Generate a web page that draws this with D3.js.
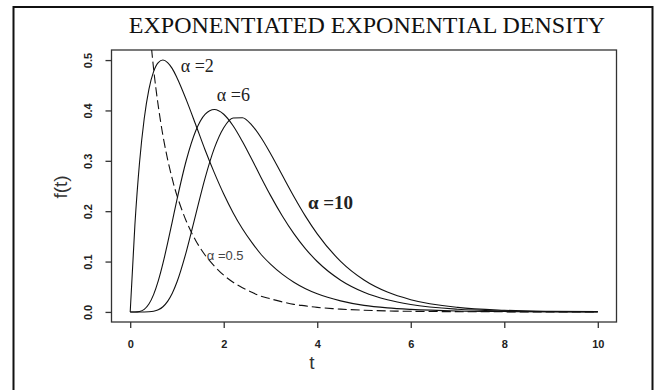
<!DOCTYPE html>
<html><head><meta charset="utf-8">
<script src="https://cdn.jsdelivr.net/npm/d3@7"></script>
<style>html,body{margin:0;padding:0;background:#fff;}svg{display:block;}</style>
</head><body>
<script>
// ---- data ----
const tGrid = [0,0.1,0.2,0.3,0.4,0.5,0.6,0.7,0.8,0.9,1.0,1.2,1.4,1.6,1.8,2.0,2.2,2.4,2.6,2.8,3.0,3.25,3.5,3.75,4.0,4.5,5.0,5.5,6.0,7,8,9,10];
const alpha2  = [0,0.172,0.297,0.384,0.442,0.477,0.495,0.500,0.495,0.483,0.465,0.421,0.372,0.322,0.276,0.234,0.197,0.165,0.138,0.114,0.095,0.075,0.059,0.046,0.036,0.022,0.013,0.008,0.005,0.0018,0.0007,0.0002,0.0001];
const alpha6  = [0,0.0000,0.0010,0.0052,0.0157,0.0343,0.0616,0.0963,0.1365,0.1795,0.2228,0.3011,0.3591,0.3922,0.4019,0.3924,0.3696,0.3383,0.3030,0.2666,0.2314,0.1910,0.1554,0.1252,0.1001,0.0630,0.0391,0.0240,0.0147,0.0054,0.0020,0.0007,0.0003];
const alpha10 = [0,0,0,0,0.0003,0.0014,0.0043,0.0103,0.0209,0.0371,0.0593,0.1197,0.1928,0.2652,0.3251,0.3657,0.3851,0.3855,0.3709,0.3457,0.3145,0.2717,0.2292,0.1897,0.1550,0.1004,0.0634,0.0394,0.0243,0.0090,0.0033,0.0012,0.0005];
const tHalf   = [0.2,0.3,0.4,0.5,0.6,0.7,0.8,0.9,1.0,1.2,1.4,1.6,1.8,2.0,2.2,2.4,2.6,2.8,3.0,3.25,3.5,3.75,4.0,4.5,5.0,5.5,6.0,7,8,9,10];
const alpha05 = [0.961,0.728,0.584,0.483,0.409,0.350,0.303,0.264,0.231,0.180,0.142,0.113,0.091,0.073,0.059,0.048,0.039,0.031,0.026,0.020,0.015,0.012,0.009,0.0056,0.0034,0.0020,0.0012,0.0005,0.0002,0.0001,0];
const xTicks = [0,2,4,6,8,10];
const yTicks = [0.0,0.1,0.2,0.3,0.4,0.5];
const labelText = ["α =2","α =6","α =10","α =0.5"];
const labelT = [1.08,1.852,3.80,1.638];
const labelF = [0.476,0.418,0.204,0.103];
const titleText = "EXPONENTIATED EXPONENTIAL DENSITY";

// ---- drawing ----
const W=660,H=390;
const svg=d3.select("body").append("svg").attr("width",W).attr("height",H);
const box={l:111.5,t:50,r:616.5,b:322};
const x=d3.scaleLinear().domain([-0.4,10.4]).range([box.l,box.r]);
const y=d3.scaleLinear().domain([-0.02,0.52]).range([box.b,box.t]);

// outer frame
svg.append("rect").attr("x",13.5).attr("y",7).attr("width",639).attr("height",400)
  .attr("fill","none").attr("stroke","#111").attr("stroke-width",2);

// title
svg.append("text").attr("x",367).attr("y",33).attr("text-anchor","middle")
  .attr("font-family","'Liberation Serif','Times New Roman',serif").attr("font-size",24)
  .attr("fill","#111").text(titleText);

svg.append("defs").append("clipPath").attr("id","clip").append("rect")
  .attr("x",box.l).attr("y",box.t).attr("width",box.r-box.l).attr("height",box.b-box.t);

// box
svg.append("rect").attr("x",box.l).attr("y",box.t).attr("width",box.r-box.l).attr("height",box.b-box.t)
  .attr("fill","none").attr("stroke","#333").attr("stroke-width",1.3);

// axes
const xAxis=d3.axisBottom(x).tickValues(xTicks).tickSize(6).tickFormat(d3.format("d"));
const gx=svg.append("g").attr("transform",`translate(0,${box.b})`).call(xAxis);
gx.select(".domain").remove();
gx.selectAll("line").attr("stroke","#333").attr("stroke-width",1.3);
gx.selectAll("text").attr("dy",null).attr("y",26).attr("font-family","'Liberation Sans',Arial,sans-serif")
  .attr("font-size",11).attr("font-weight","bold").attr("fill","#222");

const yAxis=d3.axisLeft(y).tickValues(yTicks).tickSize(6).tickFormat(d3.format(".1f"));
const gy=svg.append("g").attr("transform",`translate(${box.l},0)`).call(yAxis);
gy.select(".domain").remove();
gy.selectAll("line").attr("stroke","#333").attr("stroke-width",1.3);
gy.selectAll(".tick text").attr("x",0).attr("y",0)
  .attr("text-anchor","middle")
  .attr("transform","translate(-23,0) rotate(-90)").attr("dy","0.35em")
  .attr("font-family","'Liberation Sans',Arial,sans-serif")
  .attr("font-size",11).attr("font-weight","bold").attr("fill","#222");

// axis titles
svg.append("text").attr("transform","translate(60,187) rotate(-90)").attr("text-anchor","middle")
  .attr("dy","0.35em")
  .attr("font-family","'Liberation Sans',Arial,sans-serif").attr("font-size",19).attr("fill","#333").text("f(t)");
svg.append("text").attr("x",312).attr("y",369).attr("text-anchor","middle")
  .attr("font-family","'Liberation Sans',Arial,sans-serif").attr("font-size",19).attr("fill","#333").text("t");

// curves
const line=d3.line().x(d=>x(d[0])).y(d=>y(d[1])).curve(d3.curveMonotoneX);
const g=svg.append("g").attr("clip-path","url(#clip)");
[alpha2,alpha6,alpha10].forEach(s=>{
  g.append("path").attr("d",line(tGrid.map((t,i)=>[t,s[i]])))
   .attr("fill","none").attr("stroke","#111").attr("stroke-width",1.1);
});
g.append("path").attr("d",d3.line().x(d=>x(d[0])).y(d=>y(d[1])).curve(d3.curveCatmullRom)(tHalf.map((t,i)=>[t,alpha05[i]])))
  .attr("fill","none").attr("stroke","#111").attr("stroke-width",1.1).attr("stroke-dasharray","9,4");

// curve labels
const lf=[
 {fam:"'Liberation Serif',serif",size:18,w:"normal",c:"#222"},
 {fam:"'Liberation Serif',serif",size:18,w:"normal",c:"#222"},
 {fam:"'Liberation Serif',serif",size:19,w:"bold",c:"#222"},
 {fam:"'Liberation Sans',Arial,sans-serif",size:13,w:"normal",c:"#444"}];
labelText.forEach((s,i)=>{
  svg.append("text").attr("x",x(labelT[i])).attr("y",y(labelF[i]))
    .attr("font-family",lf[i].fam).attr("font-size",lf[i].size).attr("font-weight",lf[i].w)
    .attr("fill",lf[i].c).text(s);
});
</script>
</body></html>
